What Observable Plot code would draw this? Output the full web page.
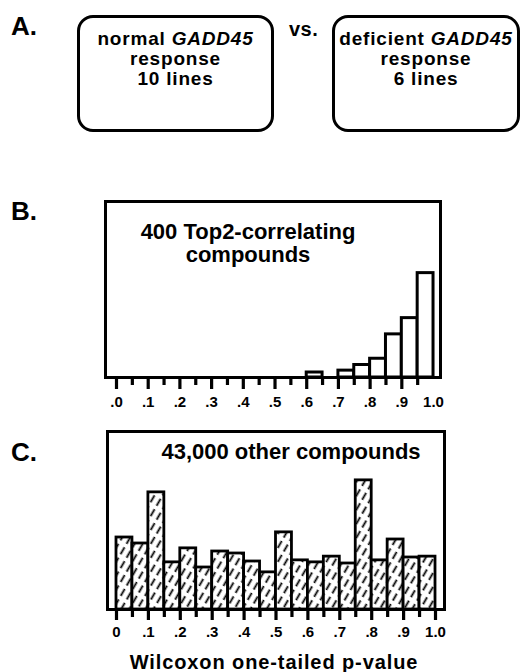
<!DOCTYPE html>
<html>
<head>
<meta charset="utf-8">
<script src="https://cdn.jsdelivr.net/npm/d3@7"></script>
<script src="https://cdn.jsdelivr.net/npm/@observablehq/plot@0.6"></script>
<style>
  body { margin: 0; background: white; }
  #root { position: relative; width: 524px; height: 672px; background: white;
          font-family: "Liberation Sans", Arial, sans-serif; font-weight: bold; color: black; }
  .lbl { position: absolute; font-size: 26px; line-height: 26px; white-space: nowrap; z-index: 2; }
  .box { position: absolute; box-sizing: border-box; border: 3px solid black; border-radius: 16px;
         text-align: center; font-size: 19px; line-height: 20px; padding-top: 11px; letter-spacing: 0.8px; }
  .vs { position: absolute; font-size: 20px; line-height: 20px; letter-spacing: 0.5px; }
  .title { position: absolute; font-size: 20px; line-height: 20px; letter-spacing: 0.9px; text-align: center; white-space: nowrap; }
  #b, #c { position: absolute; left: 0; z-index: 1; }
</style>
</head>
<body>
<div id="root">
  <div class="box" id="box1" style="left:77px;top:15px;width:197px;height:117px"></div>
  <div class="vs" id="vs" style="left:289px;top:19px"></div>
  <div class="box" id="box2" style="left:332px;top:15px;width:188px;height:117px"></div>
  <div id="b" style="top:190px"></div>
  <div id="c" style="top:420px"></div>
  <div class="lbl" id="labA" style="left:11px;top:13px"></div>
  <div class="lbl" id="labB" style="left:11px;top:198px"></div>
  <div class="lbl" id="labC" style="left:11px;top:439px"></div>
  <div class="title" id="xtitle" style="left:74px;top:652px;width:400px"></div>
</div>
<script>
// ---- data ----
const panelLetters = ["A.", "B.", "C."];
const groupNormal = ["normal ", "GADD45", "response", "10 lines"];
const groupDeficient = ["deficient ", "GADD45", "response", "6 lines"];
const vsText = "vs.";
const binLo = [0, 0.05, 0.1, 0.15, 0.2, 0.25, 0.3, 0.35, 0.4, 0.45, 0.5, 0.55, 0.6, 0.65, 0.7, 0.75, 0.8, 0.85, 0.9, 0.95];
const binWidth = 0.05;
const top2Counts = [0, 0, 0, 0, 0, 0, 0, 0, 0, 0, 0, 0, 8, 0, 11, 20, 30, 69, 95, 167];
const otherCounts = [2520, 2310, 4100, 1650, 2140, 1470, 2030, 1960, 1680, 1300, 2700, 1720, 1650, 1850, 1610, 4520, 1720, 2450, 1820, 1850];
const majorTicks = [0, 0.1, 0.2, 0.3, 0.4, 0.5, 0.6, 0.7, 0.8, 0.9, 1.0];
const minorTicks = [0.05, 0.15, 0.25, 0.35, 0.45, 0.55, 0.65, 0.75, 0.85, 0.95];
const bTickLabels = [".0", ".1", ".2", ".3", ".4", ".5", ".6", ".7", ".8", ".9", "1.0"];
const cTickLabels = ["0", ".1", ".2", ".3", ".4", ".5", ".6", ".7", ".8", ".9", "1.0"];
const panelBText = "400 Top2-correlating\ncompounds";
const panelCText = "43,000 other compounds";
const xTitle = "Wilcoxon one-tailed p-value";

// ---- panel A (HTML) ----
document.getElementById("labA").textContent = panelLetters[0];
document.getElementById("labB").textContent = panelLetters[1];
document.getElementById("labC").textContent = panelLetters[2];
document.getElementById("vs").textContent = vsText;
document.getElementById("xtitle").textContent = xTitle;
function fillBox(el, g) {
  el.innerHTML = "";
  const l1 = document.createElement("div");
  l1.append(g[0]);
  const it = document.createElement("i"); it.textContent = g[1]; l1.append(it);
  const l2 = document.createElement("div"); l2.textContent = g[2];
  const l3 = document.createElement("div"); l3.textContent = g[3];
  el.append(l1, l2, l3);
}
fillBox(document.getElementById("box1"), groupNormal);
fillBox(document.getElementById("box2"), groupDeficient);

// ---- panels B & C (Plot) ----
const bData = binLo.map((lo, i) => ({lo, hi: lo + binWidth, count: top2Counts[i]})).filter(d => d.count > 0);
const cData = binLo.map((lo, i) => ({lo, hi: lo + binWidth, count: otherCounts[i]}));
const fmt = labels => d => labels[majorTicks.findIndex(t => Math.abs(t - d) < 1e-9)] ?? "";
const font = "'Liberation Sans', Arial, sans-serif";

// tick marks below the axis line, drawn as rules from the baseline (y = 0) extended downward
const ticks = (values, len) => Plot.ruleX(values, {x: d => d, y1: 0, y2: 0, insetBottom: -len, stroke: "black", strokeWidth: 3.2});

const chartB = Plot.plot({
  width: 524, height: 225,
  marginTop: 11, marginBottom: 38, marginLeft: 105, marginRight: 84,
  x: {domain: [-0.0347, 1.022]},
  y: {domain: [0, 281.6], axis: null},
  style: {fontFamily: font, fontWeight: "bold", fontSize: "15px", background: "transparent", color: "black", overflow: "visible"},
  marks: [
    Plot.rect(bData, {x1: "lo", x2: "hi", y1: 0, y2: "count", fill: "white", stroke: "black", strokeWidth: 3}),
    Plot.frame({stroke: "black", strokeWidth: 3}),
    ticks(majorTicks.slice(0, 10), 12),
    ticks(minorTicks, 8),
    Plot.axisX({ticks: majorTicks, tickSize: 0, tickPadding: 19, tickFormat: fmt(bTickLabels), label: null}),
    Plot.text([panelBText], {text: d => d, frameAnchor: "top", lineAnchor: "top", dx: -25, dy: 21, fontSize: 22, lineHeight: 1.045, fontWeight: "bold"})
  ]
});
document.getElementById("b").append(chartB);

const chartC = Plot.plot({
  width: 524, height: 225,
  marginTop: 11, marginBottom: 36, marginLeft: 107, marginRight: 80,
  x: {domain: [-0.0282, 1.0282]},
  y: {domain: [0, 6230], axis: null},
  style: {fontFamily: font, fontWeight: "bold", fontSize: "15px", background: "transparent", color: "black", overflow: "visible"},
  marks: [
    Plot.rect(cData, {x1: "lo", x2: "hi", y1: 0, y2: "count", fill: "url(#hatch)", stroke: "black", strokeWidth: 2.8}),
    Plot.frame({stroke: "black", strokeWidth: 3}),
    ticks(majorTicks, 11),
    ticks(minorTicks, 8),
    Plot.axisX({ticks: majorTicks, tickSize: 0, tickPadding: 17, tickFormat: fmt(cTickLabels), label: null}),
    Plot.text([panelCText], {text: d => d, frameAnchor: "top", lineAnchor: "top", dx: 15, dy: 12, fontSize: 22, fontWeight: "bold"})
  ]
});
// hatch pattern
const defs = d3.select(chartC).insert("defs", ":first-child");
const pat = defs.append("pattern")
  .attr("id", "hatch").attr("patternUnits", "userSpaceOnUse")
  .attr("width", 7).attr("height", 12).attr("patternTransform", "rotate(30)");
pat.append("rect").attr("width", 7).attr("height", 12).attr("fill", "white");
pat.append("line").attr("x1", 3.5).attr("x2", 3.5).attr("y1", 0).attr("y2", 12)
  .attr("stroke", "black").attr("stroke-width", 1.8).attr("stroke-dasharray", "8 2 0.1 2");
document.getElementById("c").append(chartC);
</script>
</body>
</html>
